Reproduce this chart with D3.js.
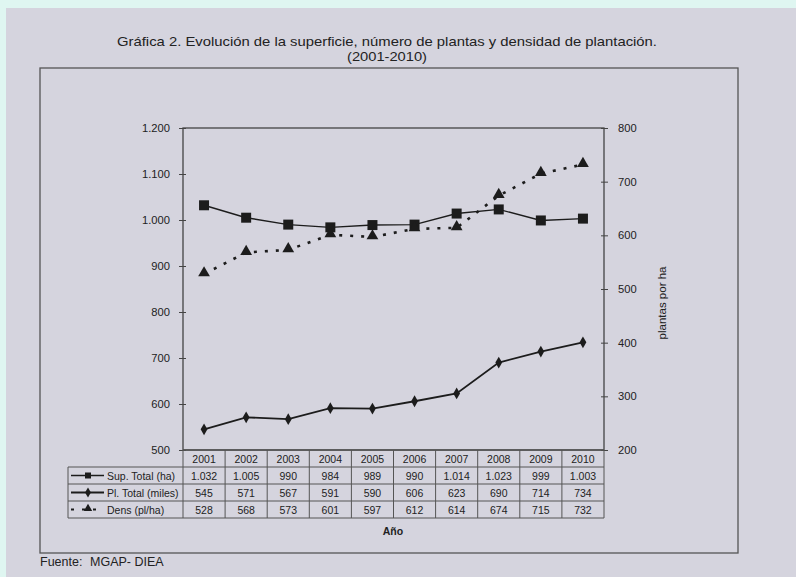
<!DOCTYPE html>
<html>
<head>
<meta charset="utf-8">
<script src="https://cdn.jsdelivr.net/npm/d3@7/dist/d3.min.js"></script>
<style>
  html, body { margin: 0; padding: 0; background: #dff6f1; }
  svg { display: block; }
  text { font-family: "Liberation Sans", Arial, sans-serif; fill: #222; }
</style>
</head>
<body>
<svg id="chart" width="796" height="577"></svg>
<script>
// Años y series
const years = ["2001","2002","2003","2004","2005","2006","2007","2008","2009","2010"];
const supTotal = [1032, 1005, 990, 984, 989, 990, 1014, 1023, 999, 1003];   // ha
const plTotal  = [545, 571, 567, 591, 590, 606, 623, 690, 714, 734];        // miles
const dens     = [528, 568, 573, 601, 597, 612, 614, 674, 715, 732];        // pl/ha

const leftTicks  = [500, 600, 700, 800, 900, 1000, 1100, 1200];
const rightTicks = [200, 300, 400, 500, 600, 700, 800];

const seriesNames = ["Sup. Total (ha)", "Pl. Total (miles)", "Dens (pl/ha)"];

const es = d3.formatLocale({decimal: ",", thousands: ".", grouping: [3], currency: ["", ""]});
const fmt = es.format(",");

const svg = d3.select("#chart");
const ink = "#1c1c1c";

// hoja escaneada
svg.append("rect").attr("x", 6).attr("y", 8).attr("width", 790).attr("height", 569)
  .attr("fill", "#d5d4de");

// título
svg.append("text").attr("x", 387).attr("y", 46).attr("text-anchor", "middle")
  .attr("font-size", 13).attr("textLength", 540).attr("lengthAdjust", "spacingAndGlyphs")
  .text("Gráfica 2. Evolución de la superficie, número de plantas y densidad de plantación.");
svg.append("text").attr("x", 387).attr("y", 61).attr("text-anchor", "middle")
  .attr("font-size", 13).attr("textLength", 80).attr("lengthAdjust", "spacingAndGlyphs")
  .text("(2001-2010)");

// marco del gráfico
svg.append("rect").attr("x", 40).attr("y", 68).attr("width", 698).attr("height", 485)
  .attr("fill", "none").attr("stroke", "#555").attr("stroke-width", 1.3);

const plot = {left: 183, right: 604, top: 128, bottom: 450};

const x = d3.scaleBand().domain(years).range([plot.left, plot.right]);
const cx = d => x(d) + x.bandwidth() / 2;
const yL = d3.scaleLinear().domain([500, 1200]).range([plot.bottom, plot.top]);
const yR = d3.scaleLinear().domain([200, 800]).range([plot.bottom, plot.top]);

// área de trazado
svg.append("rect").attr("x", plot.left).attr("y", plot.top)
  .attr("width", plot.right - plot.left).attr("height", plot.bottom - plot.top)
  .attr("fill", "none").attr("stroke", "#444").attr("stroke-width", 1.3);

// eje izquierdo
const axL = svg.append("g").attr("transform", `translate(${plot.left},0)`)
  .call(d3.axisLeft(yL).tickValues(leftTicks).tickFormat(fmt).tickSize(4).tickPadding(9));
axL.select(".domain").remove();
axL.selectAll(".tick line").attr("x2", 3).attr("x1", -4).attr("stroke", "#444");
axL.selectAll("text").attr("font-size", 11.2).attr("fill", ink).attr("font-family", "Liberation Sans, Arial, sans-serif");

// eje derecho
const axR = svg.append("g").attr("transform", `translate(${plot.right},0)`)
  .call(d3.axisRight(yR).tickValues(rightTicks).tickSize(4).tickPadding(10));
axR.select(".domain").remove();
axR.selectAll(".tick line").attr("x1", -3).attr("x2", 4).attr("stroke", "#444");
axR.selectAll("text").attr("font-size", 11.2).attr("fill", ink).attr("font-family", "Liberation Sans, Arial, sans-serif");

svg.append("text").attr("transform", "translate(666,303) rotate(-90)")
  .attr("text-anchor", "middle").attr("font-size", 11.5).text("plantas por ha");

// líneas
const lineL = d3.line().x((d, i) => cx(years[i])).y(d => yL(d));
const lineR = d3.line().x((d, i) => cx(years[i])).y(d => yR(d));

svg.append("path").attr("d", lineL(supTotal)).attr("fill", "none")
  .attr("stroke", ink).attr("stroke-width", 1.4);
svg.append("path").attr("d", lineL(plTotal)).attr("fill", "none")
  .attr("stroke", ink).attr("stroke-width", 1.8);
svg.append("path").attr("d", lineR(dens)).attr("fill", "none")
  .attr("stroke", ink).attr("stroke-width", 2.6).attr("stroke-dasharray", "3,8");

const sq = d3.symbol().type(d3.symbolSquare).size(100);
const dm = d3.symbol().type(d3.symbolDiamond).size(40);
const tri = d3.symbol().type(d3.symbolTriangle).size(60);

svg.append("g").selectAll("path").data(supTotal).join("path")
  .attr("transform", (d, i) => `translate(${cx(years[i])},${yL(d)})`)
  .attr("d", sq).attr("fill", ink);
svg.append("g").selectAll("path").data(plTotal).join("path")
  .attr("transform", (d, i) => `translate(${cx(years[i])},${yL(d)})`)
  .attr("d", dm).attr("fill", ink);
svg.append("g").selectAll("path").data(dens).join("path")
  .attr("transform", (d, i) => `translate(${cx(years[i])},${yR(d) - 1})`)
  .attr("d", tri).attr("fill", ink);

// tabla de datos
const rowH = 17;
const tTop = plot.bottom;
const legLeft = 68;
const tg = svg.append("g");
const gridColor = "#555";

// líneas horizontales
for (let r = 0; r <= 4; r++) {
  const yy = tTop + r * rowH;
  tg.append("line").attr("x1", r === 0 ? plot.left : legLeft).attr("x2", plot.right)
    .attr("y1", yy).attr("y2", yy).attr("stroke", gridColor).attr("stroke-width", r === 0 ? 1.3 : 1);
}
// líneas verticales
tg.append("line").attr("x1", legLeft).attr("x2", legLeft).attr("y1", tTop + rowH).attr("y2", tTop + 4 * rowH)
  .attr("stroke", gridColor);
years.forEach(yr => {
  tg.append("line").attr("x1", x(yr)).attr("x2", x(yr)).attr("y1", tTop).attr("y2", tTop + 4 * rowH)
    .attr("stroke", gridColor);
});
tg.append("line").attr("x1", plot.right).attr("x2", plot.right).attr("y1", tTop).attr("y2", tTop + 4 * rowH)
  .attr("stroke", gridColor);

// encabezado de años
tg.selectAll("text.yr").data(years).join("text").attr("class", "yr")
  .attr("x", d => cx(d)).attr("y", tTop + 12.5).attr("text-anchor", "middle")
  .attr("font-size", 10.5).text(d => d);

const rows = [supTotal, plTotal, dens];
rows.forEach((vals, r) => {
  const yy = tTop + (r + 1) * rowH + 12.5;
  tg.selectAll(null).data(vals).join("text")
    .attr("x", (d, i) => cx(years[i])).attr("y", yy).attr("text-anchor", "middle")
    .attr("font-size", 10.5).text(d => fmt(d));
  tg.append("text").attr("x", 107).attr("y", yy).attr("font-size", 10.5).text(seriesNames[r]);
});

// claves de leyenda
const ky = r => tTop + (r + 1) * rowH + rowH / 2;
tg.append("line").attr("x1", 71).attr("x2", 104).attr("y1", ky(0)).attr("y2", ky(0)).attr("stroke", ink).attr("stroke-width", 1.4);
tg.append("path").attr("transform", `translate(88,${ky(0)})`).attr("d", d3.symbol().type(d3.symbolSquare).size(36)).attr("fill", ink);
tg.append("line").attr("x1", 71).attr("x2", 104).attr("y1", ky(1)).attr("y2", ky(1)).attr("stroke", ink).attr("stroke-width", 1.8);
tg.append("path").attr("transform", `translate(88,${ky(1)})`).attr("d", d3.symbol().type(d3.symbolDiamond).size(30)).attr("fill", ink);
tg.append("line").attr("x1", 71).attr("x2", 104).attr("y1", ky(2)).attr("y2", ky(2)).attr("stroke", ink).attr("stroke-width", 2.2).attr("stroke-dasharray", "3,8");
tg.append("path").attr("transform", `translate(88,${ky(2) - 1})`).attr("d", d3.symbol().type(d3.symbolTriangle).size(30)).attr("fill", ink);

// título del eje X
svg.append("text").attr("x", 393).attr("y", 535).attr("text-anchor", "middle")
  .attr("font-size", 10.5).attr("font-weight", "bold").text("Año");

// fuente
const src = svg.append("text").attr("y", 566).attr("font-size", 12.5);
src.append("tspan").attr("x", 40).text("Fuente:");
src.append("tspan").attr("x", 90).text("MGAP- DIEA");
</script>
</body>
</html>
